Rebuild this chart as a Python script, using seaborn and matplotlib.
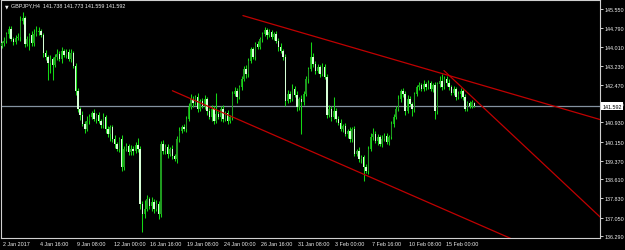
import numpy as np
import pandas as pd
import matplotlib
matplotlib.use("Agg")
import matplotlib.pyplot as plt
import matplotlib.transforms as mtransforms
from matplotlib import font_manager
import seaborn as sns

# ---------------- data ----------------
symbol = "GBPJPY,H4"
last_ohlc = ["141.738", "141.773", "141.559", "141.592"]
first_open = 144.05
bid = 141.592

closes = [
    144.16, 144.25, 144.53, 144.74, 144.33, 144.21, 144.37, 144.41, 145.06, 145.18,
    144.12, 144.33, 144.49, 144.16, 144.53, 144.61, 144.65, 144.49, 143.76, 143.59,
    143.35, 143.51, 143.27, 143.59, 143.72, 143.51, 143.84, 143.68, 143.80, 143.51,
    143.76, 143.23, 142.21, 141.48, 141.23, 140.87, 140.66, 140.99, 141.15, 141.31,
    141.07, 141.23, 140.99, 140.82, 141.15, 140.66, 140.46, 140.74, 140.25, 140.05,
    139.85, 140.25, 139.11, 139.85, 139.97, 139.72, 139.85, 139.76, 140.01, 139.85,
    137.61, 137.20, 137.40, 137.81, 137.52, 137.69, 137.40, 137.61, 137.20, 140.05,
    139.76, 139.93, 139.64, 139.85, 139.56, 139.44, 140.25, 140.58, 140.74, 140.66,
    141.07, 141.56, 141.88, 141.72, 141.97, 141.48, 141.80, 141.60, 141.88, 141.39,
    141.15, 141.48, 140.99, 141.27, 141.15, 141.48, 141.07, 141.31, 140.99, 141.15,
    142.09, 142.21, 141.97, 142.37, 142.70, 143.11, 142.90, 143.43, 143.92, 143.59,
    144.12, 144.00, 144.33, 144.53, 144.69, 144.49, 144.61, 144.41, 144.53, 144.25,
    144.00, 143.84, 143.59, 141.80, 142.09, 141.88, 142.29, 142.05, 141.56, 141.88,
    141.76, 142.09, 142.70, 143.11, 143.59, 143.31, 143.02, 143.19, 142.90, 143.19,
    142.78, 141.23, 141.48, 141.15, 141.39, 141.07, 140.91, 140.66, 140.78, 140.46,
    140.58, 140.25, 140.66, 139.64, 139.76, 139.44, 139.52, 139.11, 138.95, 139.85,
    140.34, 140.46, 140.17, 140.34, 140.05, 140.25, 140.38, 140.13, 140.34, 140.87,
    141.15, 141.48, 141.88, 142.21, 142.09, 141.39, 141.88, 141.68, 141.48, 142.09,
    142.37, 142.45, 142.29, 142.49, 142.37, 142.53, 142.29, 142.45, 141.39, 142.49,
    142.62, 142.37, 142.70, 142.53, 142.37, 142.13, 142.29, 141.97, 142.09, 142.21,
    141.97, 141.48, 141.72, 141.60, 141.74, 141.592,
]

upper_wick = [
    .10, .15, .08, .12, .10, .06, .12, .15, .20, .25,
    .10, .12, .08, .15, .20, .25, .18, .10, .08, .12,
    .10, .15, .08, .12, .20, .10, .15, .08, .12, .10,
    .15, .08, .10, .12, .08, .15, .10, .20, .12, .08,
    .15, .10, .12, .08, .15, .10, .12, .08, .10, .15,
    .10, .08, .15, .10, .12, .08, .15, .10, .12, .30,
    .10, .12, .35, .15, .10, .20, .12, .15, .10, .12,
    .15, .10, .12, .08, .15, .10, .12, .15, .08, .12,
    .10, .15, .20, .12, .08, .15, .10, .12, .15, .10,
    .12, .15, .10, .85, .12, .10, .15, .08, .12, .10,
    .12, .15, .10, .08, .12, .10, .15, .12, .10, .08,
    .10, .12, .08, .10, .13, .10, .12, .08, .10, .12,
    .10, .15, .08, .12, .15, .10, .20, .12, .15, .10,
    .15, .10, .12, .08, .60, .15, .10, .12, .08, .15,
    .10, .12, .15, .10, .58, .12, .10, .15, .08, .12,
    .10, .15, .08, .12, .10, .15, .08, .10, .12, .10,
    .15, .25, .10, .12, .08, .15, .10, .12, .08, .10,
    .12, .10, .15, .08, .12, .10, .15, .12, .10, .08,
    .10, .12, .08, .15, .10, .12, .10, .08, .12, .10,
    .18, .30, .10, .12, .15, .10, .12, .08, .10, .12,
    .08, .12, .10, .08, .10, .035,
]

lower_wick = [
    .10, .12, .08, .15, .10, .12, .08, .10, .15, .12,
    .10, .08, .45, .12, .10, .08, .12, .10, .15, .12,
    .70, .40, .60, .10, .12, .08, .15, .10, .12, .10,
    .12, .10, .15, .12, .20, .10, .15, .08, .12, .10,
    .10, .15, .08, .12, .10, .15, .12, .30, .10, .15,
    .10, .12, .15, .10, .08, .12, .10, .15, .08, .12,
    .20, .74, .15, .10, .12, .20, .15, .10, .20, .12,
    .10, .12, .15, .08, .12, .10, .15, .12, .10, .08,
    .12, .10, .08, .15, .10, .12, .08, .10, .12, .15,
    .10, .15, .12, .08, .10, .15, .12, .10, .12, .10,
    .12, .10, .25, .08, .12, .10, .15, .12, .10, .08,
    .12, .10, .08, .12, .10, .15, .08, .10, .12, .10,
    .15, .10, .12, .20, .10, .12, .08, .10, .15, .12,
    1.30, .12, .10, .15, .08, .12, .10, .08, .12, .10,
    .10, .12, .08, .15, .10, .12, .08, .10, .12, .10,
    .15, .10, .12, .08, .10, .12, .15, .57, .10, .12,
    .10, .12, .08, .15, .10, .12, .08, .10, .12, .10,
    .12, .10, .08, .10, .12, .15, .08, .10, .30, .12,
    .10, .12, .08, .10, .12, .08, .10, .12, .32, .10,
    .10, .12, .08, .10, .12, .10, .08, .12, .10, .15,
    .12, .10, .08, .10, .08, .033,
]

price_ticks = [145.550, 144.790, 144.010, 143.230, 142.470, 141.690, 140.930,
               140.150, 139.370, 138.610, 137.830, 137.050, 136.290]
date_tick_bars = [0, 16, 32, 48, 64, 80, 96, 112, 128, 144, 160, 176, 192]
date_labels = ["2 Jan 2017", "4 Jan 16:00", "9 Jan 08:00", "12 Jan 00:00",
               "16 Jan 16:00", "19 Jan 08:00", "24 Jan 00:00", "26 Jan 16:00",
               "31 Jan 08:00", "3 Feb 00:00", "7 Feb 16:00", "10 Feb 08:00",
               "15 Feb 00:00"]

# trend lines: two anchor points (bar index, price), drawn as rays to the right
trend_upper_bars = [104.6, 209.6]
trend_upper_prices = [145.28, 142.41]
trend_lower_bars = [74.0, 209.6]
trend_lower_prices = [142.22, 136.66]
trend_steep_bars = [191.8, 259.5]
trend_steep_prices = [143.04, 137.08]

# ---------------- style ----------------
BG = "#000000"
FG = "#F0F0F0"
BULL = "#1F9A1F"
BEAR = "#D8FFD8"
WICK = "#14D814"
TREND = "#C00000"
BIDLINE = "#8492A0"

sns.set_theme(style="dark", rc={
    "figure.facecolor": BG, "axes.facecolor": BG, "axes.edgecolor": "#D0D0D0",
    "axes.grid": False, "xtick.color": FG, "ytick.color": FG, "text.color": FG,
})
installed = {f.name for f in font_manager.fontManager.ttflist}
NARROW = ["Liberation Sans Narrow", "Liberation Sans", "DejaVu Sans"]
NARROW = [f for f in NARROW if f in installed] or ["DejaVu Sans"]
plt.rcParams["font.family"] = NARROW + ["DejaVu Sans"]
FS = 4.6 if NARROW[0] == "Liberation Sans Narrow" else 3.9

W, H = 625, 251
fig = plt.figure(figsize=(W / 100, H / 100), dpi=100)
ax = fig.add_axes([1 / W, (H - 239) / H, 599 / W, 238 / H])

XMIN, XMAX = -0.35, 259.5
YMIN, YMAX = 136.22, 145.915
ax.set_xlim(XMIN, XMAX)
ax.set_ylim(YMIN, YMAX)

c = np.array(closes)
o = np.array([first_open] + closes[:-1])
o[-1] = float(last_ohlc[0])
idx = np.arange(len(c))
hi = np.maximum(o, c) + np.array(upper_wick)
lo = np.minimum(o, c) - np.array(lower_wick)
df = pd.DataFrame({"bar": idx, "open": o, "high": hi, "low": lo, "close": c})
df["bull"] = df["close"] >= df["open"]

ax.vlines(df["bar"], df["low"], df["high"], color=WICK, lw=0.75, zorder=2)
body_bottom = np.minimum(df["open"], df["close"])
body_h = np.maximum(np.abs(df["close"] - df["open"]), 0.025)
ax.bar(df["bar"], body_h, bottom=body_bottom, width=0.62,
       color=np.where(df["bull"], BULL, BEAR), edgecolor="none", zorder=3)

# bid line
ax.axhline(bid, color=BIDLINE, lw=0.9, zorder=1)

# trend lines (rays)
for bars, prices in [(trend_upper_bars, trend_upper_prices),
                     (trend_lower_bars, trend_lower_prices),
                     (trend_steep_bars, trend_steep_prices)]:
    slope = (prices[1] - prices[0]) / (bars[1] - bars[0])
    xs = np.linspace(bars[0], XMAX + 1, 60)
    ys = prices[0] + slope * (xs - bars[0])
    tl = pd.DataFrame({"x": xs, "y": ys})
    sns.lineplot(data=tl, x="x", y="y", ax=ax, color=TREND, lw=0.9,
                 zorder=4, estimator=None, sort=False)
ax.set_xlabel("")
ax.set_ylabel("")

# axes frame
for s in ax.spines.values():
    s.set_color("#D0D0D0")
    s.set_linewidth(0.8)

# y ticks on right
ax.yaxis.tick_right()
ax.set_yticks(price_ticks)
ax.set_yticklabels([f"{p:.3f}" for p in price_ticks], fontsize=FS, color=FG)
ax.tick_params(axis="y", direction="out", length=2.2, width=0.6, pad=1.2, colors=FG)

# x ticks
ax.set_xticks(date_tick_bars)
ax.set_xticklabels([])
ax.tick_params(axis="x", direction="out", length=2.5, width=0.6, colors=FG)
trans = mtransforms.blended_transform_factory(ax.transData, ax.transAxes)
for b, lab in zip(date_tick_bars, date_labels):
    ax.text(b + 0.5, -0.012, lab, transform=trans, ha="left", va="top",
            fontsize=FS, color=FG)

# bid label on right axis
ytr = mtransforms.blended_transform_factory(ax.transAxes, ax.transData)
ax.text(1.004, bid, f"{bid:.3f}", transform=ytr, ha="left", va="center",
        fontsize=FS, color="#000000", zorder=10, clip_on=False,
        bbox=dict(boxstyle="square,pad=0.22", fc="#FFFFFF", ec="none"))

# title
ax.text(0.006, 0.985, "\u25bc", transform=ax.transAxes, ha="left", va="top",
        fontsize=3.4, color=FG, family="DejaVu Sans")
ax.text(0.016, 0.99, f"{symbol}  " + " ".join(last_ohlc), transform=ax.transAxes,
        ha="left", va="top", fontsize=FS, color=FG)

fig.savefig("out.png", dpi=100, facecolor=BG)
